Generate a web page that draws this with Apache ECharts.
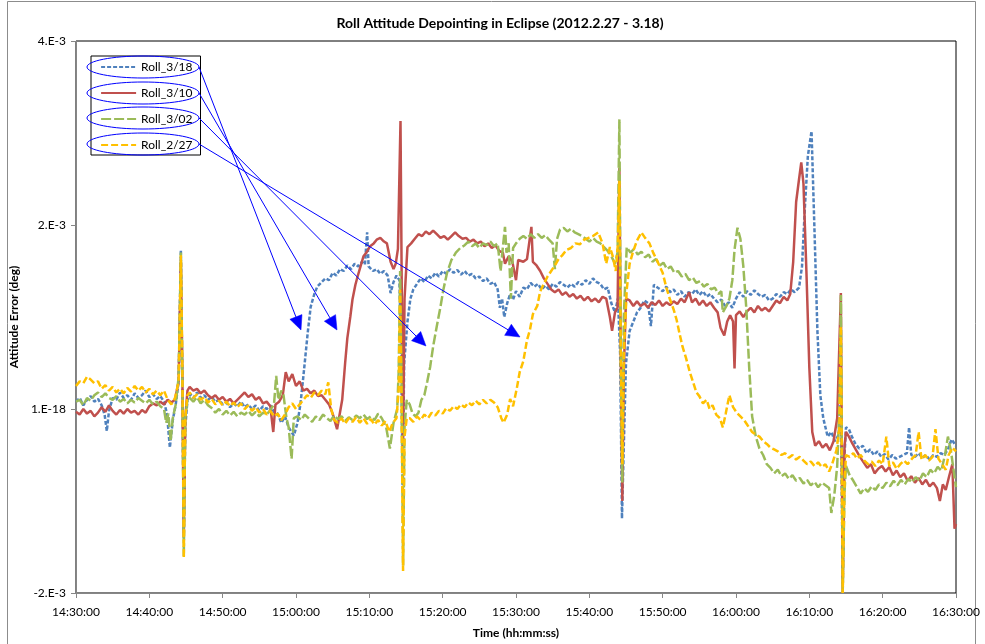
<!DOCTYPE html>
<html>
<head>
<meta charset="utf-8">
<script src="https://cdn.jsdelivr.net/npm/echarts@6/dist/echarts.min.js"></script>
<style>
  html, body { margin: 0; padding: 0; background: #ffffff; }
  #chart { width: 985px; height: 644px; }
</style>
</head>
<body>
<div id="chart"></div>
<script>
// Roll attitude error during eclipse passes, four dates.
// Each sample: [minutes after 14:30:00, roll error in units of 1e-3 deg]
const chartTitle = 'Roll Attitude Depointing in Eclipse (2012.2.27 - 3.18)';
const xAxisTitle = 'Time (hh:mm:ss)';
const yAxisTitle = 'Attitude Error (deg)';
const seriesNames = ['Roll_3/18', 'Roll_3/10', 'Roll_3/02', 'Roll_2/27'];
const timeLabels = ['14:30:00', '14:40:00', '14:50:00', '15:00:00', '15:10:00', '15:20:00', '15:30:00',
                    '15:40:00', '15:50:00', '16:00:00', '16:10:00', '16:20:00', '16:30:00'];
const yTickValues = [-0.002, 0, 0.002, 0.004];
const yTickLabels = ['-2.E-3', '1.E-18', '2.E-3', '4.E-3'];

const roll0318 = [
  [0,0.08],[0.5,0.12],[1,0.04],[1.5,0.1],[2,0.14],[2.5,0.08],[3,0.11],[3.5,0.04],[3.9,-0.06],[4.2,-0.24],[4.5,-0.02],
  [5,0.12],[5.5,0.1],[6,0.18],[6.5,0.12],[7,0.15],[7.5,0.1],[8,0.17],[8.5,0.12],[9,0.15],[9.5,0.2],[10,0.13],
  [10.5,0.16],[11,0.11],[11.5,0.14],[12,0.08],[12.4,-0.05],[12.8,-0.42],[13.2,-0.12],[13.6,0.05],[14.0,0.3],
  [14.3,1.73],[14.5,0.3],[14.7,-1.35],[14.9,-0.2],[15.2,0.1],[15.6,0.16],[16,0.12],[16.5,0.18],[17,0.12],[17.5,0.15],
  [18,0.1],[18.5,0.13],[19,0.08],[19.5,0.1],[20,0.05],[20.5,0.07],[21,0.02],[21.5,0.06],[22,0.03],[22.5,0.08],
  [23,0.02],[23.5,0.05],[24,0.0],[24.5,0.04],[25,-0.02],[25.5,0.03],[26,0.0],[26.5,0.04],[27,-0.03],[27.5,-0.05],
  [28,-0.15],[28.5,-0.08],[29,-0.2],[29.7,-0.29],[30.2,-0.15],[30.6,0.05],[31,0.35],[31.6,0.83],[32,1.11],[32.5,1.25],
  [32.9,1.33],[33.5,1.38],[34,1.42],[34.5,1.4],[35,1.48],[35.5,1.45],[36,1.52],[36.5,1.5],[37,1.56],[37.5,1.52],
  [38,1.58],[38.5,1.55],[39,1.6],[39.4,1.57],[39.7,1.92],[39.9,1.55],[40.5,1.5],[41,1.52],[41.5,1.47],[42,1.5],
  [42.5,1.45],[42.9,1.26],[43.3,1.38],[43.7,1.45],[44.1,1.4],[44.35,0.6],[44.55,-0.9],[44.75,0.5],[45.2,0.95],
  [45.6,1.2],[46,1.3],[46.5,1.36],[47,1.42],[47.5,1.38],[48,1.45],[48.5,1.42],[49,1.48],[49.5,1.44],[50,1.5],
  [50.5,1.47],[51,1.52],[51.5,1.48],[52,1.51],[52.5,1.46],[53,1.5],[53.5,1.45],[54,1.47],[54.5,1.42],[55,1.44],
  [55.5,1.39],[56,1.42],[56.5,1.36],[57,1.38],[57.5,1.3],[57.8,1.1],[58.1,1.2],[58.4,1.0],[58.8,1.15],[59.2,1.25],
  [59.6,1.19],[60,1.28],[60.5,1.22],[61,1.32],[61.5,1.3],[62,1.37],[62.5,1.33],[63,1.36],[63.5,1.3],[64,1.34],
  [64.5,1.3],[65,1.36],[65.5,1.33],[66,1.38],[66.5,1.35],[67,1.32],[67.5,1.36],[68,1.33],[68.5,1.38],[69,1.35],
  [69.5,1.4],[70,1.36],[70.5,1.42],[71,1.38],[71.5,1.36],[72,1.3],[72.5,1.32],[73,1.15],[73.5,1.05],[73.9,1.2],
  [74.2,0.6],[74.45,-1.19],[74.7,-0.4],[75,0.5],[75.5,0.85],[76,0.95],[76.5,1.05],[77,1.1],[77.5,1.18],[78,1.15],
  [78.4,0.9],[78.8,1.35],[79.3,1.32],[80,1.28],[80.5,1.33],[81,1.27],[81.5,1.3],[82,1.24],[82.5,1.28],[83,1.22],
  [83.5,1.27],[84,1.25],[84.5,1.3],[85,1.24],[85.5,1.28],[86,1.22],[86.5,1.25],[87,1.2],[87.5,1.16],[88,1.19],
  [88.5,1.12],[89,1.16],[89.5,1.1],[90,1.2],[90.5,1.27],[91,1.22],[91.5,1.28],[92,1.24],[92.5,1.29],[93,1.25],
  [93.5,1.22],[94,1.24],[94.5,1.18],[95,1.2],[95.5,1.25],[96,1.22],[96.5,1.27],[97,1.25],[97.5,1.3],[98,1.27],
  [98.6,1.32],[99,1.55],[99.4,2.2],[99.8,2.75],[100.3,3.02],[100.7,1.95],[101.1,0.85],[101.5,0.15],[101.9,-0.1],
  [102.5,-0.3],[103,-0.25],[103.5,-0.35],[104,-0.28],[104.3,0.2],[104.55,-1.9],[104.8,-0.5],[105,-0.2],[105.4,-0.22],
  [105.8,-0.3],[106.3,-0.38],[106.8,-0.43],[107.3,-0.4],[107.8,-0.48],[108.3,-0.44],[108.8,-0.5],[109.3,-0.46],
  [109.8,-0.52],[110.3,-0.49],[110.8,-0.55],[111.3,-0.5],[111.8,-0.54],[112.3,-0.52],[112.8,-0.5],[113.3,-0.48],
  [113.6,-0.2],[113.9,-0.5],[114.4,-0.52],[114.9,-0.48],[115.4,-0.53],[115.9,-0.5],[116.4,-0.55],[116.9,-0.5],
  [117.4,-0.52],[117.9,-0.48],[118.4,-0.5],[118.9,-0.44],[119.4,-0.33],[120,-0.4]
];

const roll0310 = [
  [0,-0.03],[0.5,-0.06],[1,0.0],[1.5,-0.05],[2,-0.02],[2.5,-0.08],[3,-0.04],[3.5,0.02],[4,-0.03],[4.5,0.04],
  [5,-0.02],[5.5,-0.06],[6,-0.01],[6.5,-0.05],[7,0.0],[7.5,-0.04],[8,-0.02],[8.5,-0.06],[9,-0.01],[9.5,-0.04],
  [10,0.03],[10.5,0.06],[11,0.04],[11.5,0.08],[12,0.05],[12.5,0.1],[13,0.07],[13.5,0.1],[14.0,0.3],[14.3,1.6],
  [14.5,0.4],[14.7,-1.4],[14.9,-0.1],[15.2,0.2],[15.5,0.24],[16,0.2],[16.5,0.22],[17,0.17],[17.5,0.2],[18,0.15],
  [18.5,0.12],[19,0.15],[19.5,0.1],[20,0.13],[20.5,0.08],[21,0.11],[21.5,0.06],[22,0.1],[22.5,0.14],[23,0.18],
  [23.5,0.13],[24,0.16],[24.5,0.1],[25,0.13],[25.5,0.06],[26,0.08],[26.5,0.03],[26.9,-0.25],[27.2,0.05],[27.7,0.08],
  [28.2,0.15],[28.6,0.4],[29,0.3],[29.5,0.38],[30,0.25],[30.5,0.3],[31,0.2],[31.5,0.22],[32,0.17],[32.5,0.2],
  [33,0.14],[33.5,0.15],[34,0.1],[34.5,0.05],[35,-0.05],[35.6,-0.22],[36.3,0.1],[36.7,0.5],[37,0.77],[37.4,1.0],
  [37.7,1.19],[38.1,1.35],[38.4,1.44],[38.8,1.55],[39.2,1.66],[39.6,1.7],[40.1,1.77],[40.6,1.8],[41,1.84],[41.5,1.86],
  [42,1.82],[42.4,1.8],[42.9,1.6],[43.3,1.52],[43.6,1.58],[43.9,1.74],[44.25,3.13],[44.45,1.0],[44.6,-0.4],[44.8,1.2],
  [45.2,1.76],[45.7,1.8],[46.2,1.85],[46.7,1.9],[47.2,1.88],[47.7,1.93],[48.2,1.9],[48.7,1.94],[49.2,1.9],[49.7,1.86],
  [50.2,1.88],[50.7,1.84],[51.2,1.88],[51.7,1.92],[52.2,1.88],[52.7,1.85],[53.2,1.86],[53.7,1.82],[54.2,1.84],
  [54.7,1.8],[55.2,1.82],[55.7,1.77],[56.2,1.8],[56.7,1.75],[57.2,1.78],[57.7,1.72],[58.2,1.7],[58.5,1.58],[59,1.66],
  [59.5,1.6],[60,1.4],[60.3,1.62],[61,1.6],[61.5,1.63],[62.1,1.98],[62.3,1.6],[62.8,1.56],[63.3,1.5],[63.8,1.42],
  [64.3,1.36],[64.8,1.3],[65.3,1.27],[65.8,1.3],[66.3,1.24],[66.8,1.27],[67.3,1.22],[67.8,1.25],[68.3,1.2],[68.8,1.23],
  [69.3,1.18],[69.8,1.22],[70.3,1.17],[70.8,1.2],[71.3,1.16],[71.8,1.22],[72.3,1.2],[72.8,1.0],[73.1,0.85],[73.5,1.05],
  [73.85,1.1],[74.1,2.62],[74.3,0.5],[74.5,-1.0],[74.7,0.4],[75,1.2],[75.5,1.18],[76,1.12],[76.5,1.17],[77,1.12],
  [77.5,1.15],[78,1.1],[78.5,1.16],[79,1.13],[79.5,1.18],[80,1.12],[80.5,1.16],[81,1.13],[81.5,1.17],[82,1.14],
  [82.5,1.2],[83,1.16],[83.6,1.27],[84,1.16],[84.5,1.2],[85,1.13],[85.5,1.18],[86,1.12],[86.5,1.16],[87,1.1],
  [87.5,1.05],[87.9,0.88],[88.4,0.8],[88.8,0.95],[89.2,1.02],[89.6,0.95],[89.8,0.44],[90,1.02],[90.5,1.06],[91,1.0],
  [91.5,1.06],[92,1.1],[92.5,1.05],[93,1.12],[93.5,1.07],[94,1.1],[94.5,1.06],[95,1.12],[95.5,1.18],[96,1.15],
  [96.5,1.22],[97,1.18],[97.4,1.25],[97.8,1.6],[98.2,2.25],[98.6,2.5],[98.9,2.68],[99.2,2.45],[99.6,1.5],[100,0.45],
  [100.4,-0.25],[100.8,-0.4],[101.3,-0.35],[101.8,-0.42],[102.3,-0.38],[102.8,-0.45],[103.3,-0.35],[103.8,-0.1],
  [104.3,1.26],[104.55,-2.0],[104.8,-0.4],[105,-0.25],[105.4,-0.3],[105.9,-0.38],[106.4,-0.45],[106.9,-0.52],
  [107.4,-0.58],[107.9,-0.64],[108.4,-0.6],[108.9,-0.7],[109.4,-0.65],[109.9,-0.62],[110.4,-0.68],[110.9,-0.63],
  [111.4,-0.72],[111.9,-0.67],[112.4,-0.74],[112.9,-0.7],[113.4,-0.78],[113.9,-0.73],[114.4,-0.8],[114.9,-0.75],
  [115.4,-0.82],[115.9,-0.77],[116.4,-0.84],[116.9,-0.8],[117.4,-0.86],[117.8,-1.0],[118.2,-0.82],[118.6,-0.88],
  [119.1,-0.72],[119.5,-0.6],[119.8,-1.3],[120,-1.25]
];

const roll0302 = [
  [0,0.08],[0.5,0.1],[1,0.04],[1.5,0.12],[2,0.09],[2.5,0.15],[3,0.18],[3.5,0.13],[4,0.17],[4.5,0.12],[5,0.1],
  [5.5,0.14],[6,0.08],[6.5,0.11],[7,0.06],[7.5,0.1],[8,0.07],[8.5,0.12],[9,0.09],[9.5,0.06],[10,0.1],[10.5,0.05],
  [11,0.08],[11.5,0.03],[12,0.0],[12.3,-0.15],[12.6,-0.05],[12.9,-0.35],[13.2,-0.1],[13.6,0.05],[14.0,0.35],
  [14.3,1.7],[14.5,0.3],[14.7,-1.6],[14.9,-0.1],[15.2,0.1],[15.5,0.12],[16,0.08],[16.5,0.13],[17,0.06],[17.5,0.1],
  [18,0.04],[18.5,0.01],[19,-0.04],[19.5,0.0],[20,-0.06],[20.5,-0.02],[21,-0.07],[21.5,-0.03],[22,-0.08],[22.5,-0.04],
  [23,-0.06],[23.5,-0.02],[24,-0.07],[24.5,-0.03],[25,-0.08],[25.5,-0.04],[26,-0.06],[26.5,-0.01],[27,0.05],
  [27.3,0.36],[27.6,0.1],[28,0.2],[28.3,0.15],[28.7,-0.1],[29,-0.2],[29.4,-0.54],[29.7,-0.1],[30.2,-0.08],
  [30.7,-0.12],[31.2,-0.06],[31.7,-0.1],[32.2,-0.14],[32.7,-0.08],[33.2,-0.12],[33.7,-0.06],[34.2,-0.1],[34.7,-0.13],
  [35.2,-0.07],[35.7,-0.11],[36.2,-0.08],[36.7,-0.13],[37.2,-0.09],[37.7,-0.12],[38.2,-0.07],[38.7,-0.1],[39.2,-0.06],
  [39.7,-0.11],[40.2,-0.08],[40.7,-0.12],[41.2,-0.05],[41.7,-0.1],[42.3,-0.2],[42.8,-0.43],[43.3,-0.15],[43.8,0.0],
  [44.0,0.4],[44.2,1.5],[44.4,0.2],[44.6,-1.7],[44.8,-0.2],[45.1,0.1],[45.5,0.05],[45.9,-0.05],[46.3,-0.08],
  [46.7,-0.04],[47.1,0.1],[47.5,0.15],[47.9,0.3],[48.3,0.46],[48.7,0.68],[49.2,0.9],[49.7,1.11],[50.1,1.3],
  [50.6,1.48],[51.2,1.62],[51.8,1.7],[52.4,1.75],[53,1.78],[53.5,1.82],[54,1.77],[54.5,1.8],[55,1.75],[55.5,1.8],
  [56,1.78],[56.5,1.82],[57,1.77],[57.5,1.8],[57.9,1.5],[58.2,1.75],[58.5,1.98],[58.7,1.7],[59,1.8],[59.3,1.2],
  [59.6,1.75],[60,1.8],[60.5,1.85],[61,1.88],[61.5,1.85],[62,1.9],[62.5,1.86],[63,1.9],[63.5,1.86],[64,1.89],
  [64.5,1.84],[65,1.8],[65.3,1.52],[65.6,1.85],[66,1.95],[66.5,1.97],[67,1.93],[67.5,1.96],[68,1.92],[68.5,1.9],
  [69,1.88],[69.5,1.85],[70,1.82],[70.5,1.86],[71,1.82],[71.5,1.8],[72,1.76],[72.5,1.72],[73,1.66],[73.5,1.58],
  [73.85,1.7],[74.1,3.15],[74.3,0.5],[74.5,-0.8],[74.7,1.0],[75.1,1.76],[75.6,1.7],[76.1,1.74],[76.6,1.68],
  [77.1,1.71],[77.6,1.65],[78.1,1.68],[78.6,1.6],[79.1,1.63],[79.6,1.56],[80.1,1.59],[80.6,1.52],[81.1,1.55],
  [81.6,1.48],[82.1,1.5],[82.6,1.44],[83.1,1.47],[83.6,1.4],[84.1,1.43],[84.6,1.37],[85.1,1.39],[85.6,1.33],
  [86.1,1.36],[86.6,1.3],[87.1,1.32],[87.6,1.25],[88,1.28],[88.2,1.05],[88.7,1.12],[89.1,1.2],[89.5,1.4],[89.8,1.73],
  [90.2,1.97],[90.6,1.85],[91,1.55],[91.4,1.1],[91.8,0.45],[92.2,-0.08],[92.7,-0.3],[93.2,-0.43],[93.7,-0.5],
  [94.2,-0.6],[94.7,-0.64],[95.2,-0.7],[95.7,-0.66],[96.2,-0.73],[96.7,-0.7],[97.2,-0.76],[97.7,-0.72],[98.2,-0.78],
  [98.7,-0.75],[99.2,-0.81],[99.7,-0.77],[100.2,-0.83],[100.7,-0.79],[101.2,-0.85],[101.7,-0.8],[102.2,-0.83],
  [102.7,-0.86],[103,-1.13],[103.4,-0.94],[103.8,-0.62],[104.1,0.0],[104.3,1.24],[104.55,-2.0],[104.8,-0.9],
  [105,-0.62],[105.5,-0.72],[106,-0.78],[106.5,-0.85],[107,-0.92],[107.5,-0.86],[108,-0.9],[108.5,-0.84],[109,-0.88],
  [109.5,-0.82],[110,-0.86],[110.5,-0.8],[111,-0.84],[111.5,-0.78],[112,-0.83],[112.5,-0.77],[113,-0.82],[113.5,-0.76],
  [114,-0.8],[114.5,-0.74],[115,-0.78],[115.5,-0.7],[116,-0.74],[116.5,-0.66],[117,-0.7],[117.5,-0.63],[118,-0.67],
  [118.5,-0.5],[118.9,-0.3],[119.3,-0.45],[119.7,-0.68],[120,-0.85]
];

const roll0227 = [
  [0,0.25],[0.5,0.3],[1,0.28],[1.5,0.35],[2,0.32],[2.5,0.28],[3,0.3],[3.5,0.22],[4,0.26],[4.5,0.2],[5,0.24],
  [5.5,0.18],[6,0.22],[6.5,0.17],[7,0.23],[7.5,0.19],[8,0.25],[8.5,0.2],[9,0.24],[9.5,0.18],[10,0.22],[10.5,0.16],
  [11,0.2],[11.5,0.15],[12,0.2],[12.5,0.1],[13,0.05],[13.5,0.12],[14.0,0.3],[14.3,1.67],[14.5,0.5],[14.7,-1.62],
  [14.9,-0.1],[15.2,0.15],[15.5,0.18],[16,0.12],[16.5,0.16],[17,0.1],[17.5,0.13],[18,0.07],[18.5,0.11],[19,0.05],
  [19.5,0.09],[20,0.04],[20.5,0.08],[21,0.03],[21.5,0.07],[22,0.02],[22.5,0.06],[23,0.0],[23.5,0.04],[24,-0.02],
  [24.5,0.02],[25,-0.04],[25.5,0.0],[26,-0.06],[26.5,-0.02],[27,-0.08],[27.5,-0.05],[28,-0.12],[28.5,-0.06],
  [29,0.02],[29.5,0.06],[30,0.0],[30.5,0.05],[31,0.1],[31.5,0.15],[32,0.12],[32.5,0.18],[33,0.15],[33.5,0.2],
  [34,0.16],[34.4,0.29],[34.8,0.0],[35.2,-0.12],[35.7,-0.15],[36.2,-0.1],[36.7,-0.16],[37.2,-0.1],[37.7,-0.14],
  [38.2,-0.09],[38.7,-0.15],[39.2,-0.1],[39.7,-0.16],[40.2,-0.11],[40.7,-0.17],[41.2,-0.12],[41.7,-0.18],[42.2,-0.13],
  [42.7,-0.25],[43.2,-0.15],[43.7,-0.1],[44.0,0.2],[44.2,1.3],[44.4,0.0],[44.6,-1.76],[44.8,-0.3],[45.1,-0.1],
  [45.5,-0.1],[46,-0.14],[46.5,-0.08],[47,-0.12],[47.5,-0.06],[48,-0.1],[48.5,-0.04],[49,-0.07],[49.5,-0.02],
  [50,-0.05],[50.5,0.01],[51,-0.02],[51.5,0.03],[52,0.0],[52.5,0.05],[53,0.02],[53.5,0.07],[54,0.04],[54.5,0.09],
  [55,0.05],[55.5,0.1],[56,0.06],[56.5,0.1],[57,0.07],[57.5,0.02],[58,-0.1],[58.3,-0.15],[58.8,-0.06],[59.2,0.11],
  [59.6,0.03],[60.1,0.22],[60.5,0.4],[61,0.52],[61.5,0.75],[61.9,0.86],[62.3,1.03],[62.9,1.12],[63.3,1.28],
  [63.8,1.36],[64.3,1.44],[64.8,1.5],[65.3,1.56],[65.8,1.63],[66.3,1.67],[66.9,1.73],[67.5,1.75],[68.1,1.8],
  [68.7,1.79],[69.3,1.84],[69.9,1.86],[70.5,1.88],[71.2,1.92],[71.8,1.8],[72.3,1.58],[72.8,1.76],[73.2,1.66],
  [73.6,1.5],[73.9,1.8],[74.1,2.48],[74.3,0.5],[74.5,-0.6],[74.7,0.6],[75.1,1.3],[75.5,1.58],[76,1.72],[76.5,1.83],
  [77.1,1.92],[77.6,1.86],[78.2,1.8],[78.7,1.7],[79.2,1.62],[79.6,1.55],[80,1.48],[80.5,1.32],[81,1.19],[81.5,1.08],
  [81.9,0.97],[82.3,0.82],[82.7,0.68],[83.2,0.55],[83.7,0.4],[84.2,0.28],[84.6,0.18],[85,0.14],[85.5,0.06],[86,0.1],
  [86.4,0.0],[86.8,0.04],[87.3,-0.06],[87.8,-0.1],[88.2,-0.2],[88.6,-0.05],[89.1,0.15],[89.6,0.02],[90.1,-0.04],
  [90.6,-0.08],[91.1,-0.12],[91.6,-0.18],[92.2,-0.25],[92.7,-0.28],[93.2,-0.3],[93.7,-0.35],[94.2,-0.38],[94.7,-0.42],
  [95.2,-0.44],[95.7,-0.46],[96.2,-0.5],[96.7,-0.48],[97.2,-0.53],[97.7,-0.5],[98.2,-0.55],[98.7,-0.52],[99.2,-0.56],
  [99.7,-0.6],[100.2,-0.57],[100.7,-0.62],[101.2,-0.58],[101.7,-0.63],[102.2,-0.6],[102.7,-0.68],[103.1,-0.6],
  [103.7,-0.45],[104.1,-0.2],[104.3,0.9],[104.55,-2.0],[104.8,-0.8],[105,-0.5],[105.5,-0.52],[106,-0.48],[106.5,-0.54],
  [107,-0.5],[107.5,-0.56],[108,-0.6],[108.5,-0.57],[109,-0.62],[109.5,-0.56],[110,-0.6],[110.5,-0.3],[110.9,-0.62],
  [111.4,-0.58],[111.9,-0.65],[112.4,-0.6],[112.9,-0.56],[113.4,-0.6],[114,-0.54],[114.5,-0.5],[114.9,-0.25],
  [115.3,-0.55],[115.8,-0.5],[116.3,-0.56],[116.8,-0.52],[117.2,-0.22],[117.6,-0.54],[118.1,-0.6],[118.6,-0.66],
  [119,-0.5],[119.5,-0.42],[120,-0.46]
];

const seriesData = [roll0318, roll0310, roll0302, roll0227];
const seriesColors = ['#4F81BD', '#C0504D', '#9BBB59', '#FFC000'];
const seriesDash = [[4, 2], 'solid', [10, 3], [7, 3]];

const FONT = 'Lato, "Open Sans", sans-serif';
const MDEG = 1e-3;

const chart = echarts.init(document.getElementById('chart'), null, { renderer: 'canvas' });

const series = seriesNames.map((name, i) => ({
  name,
  type: 'line',
  data: seriesData[i].map(([t, v]) => [t, v * MDEG]),
  showSymbol: false,
  symbol: 'none',
  smooth: false,
  clip: true,
  lineStyle: { color: seriesColors[i], width: 2.5, type: seriesDash[i] },
  itemStyle: { color: seriesColors[i] },
  emphasis: { disabled: true },
  z: 2 + i
}));

// Callout ellipses around legend rows and arrows pointing into the plot
const calloutRows = [67, 93, 118, 144];
const arrowTips = [[301, 330], [337, 330], [426, 346], [520, 337]];
const graphics = [];
graphics.push({
  type: 'rect', silent: true, z: 0,
  shape: { x: 7.5, y: 1.5, width: 968, height: 700 },
  style: { fill: 'none', stroke: '#8c8c8c', lineWidth: 1 }
});
graphics.push({
  type: 'text', silent: true, z: 10,
  x: 500, y: 23,
  style: { text: chartTitle, font: 'bold 14px ' + FONT, fill: '#000', align: 'center', verticalAlign: 'middle' }
});
calloutRows.forEach((cy, i) => {
  graphics.push({
    type: 'ellipse', silent: true, z: 20,
    shape: { cx: 143, cy: cy, rx: 56, ry: 11 },
    style: { fill: 'none', stroke: '#0000FF', lineWidth: 1 }
  });
  const sx = 199, sy = cy;
  const [tx, ty] = arrowTips[i];
  const dx = tx - sx, dy = ty - sy;
  const len = Math.hypot(dx, dy);
  const ux = dx / len, uy = dy / len;
  const headLen = 14, headHalf = 6.5;
  const bx = tx - ux * headLen, by = ty - uy * headLen;
  graphics.push({
    type: 'line', silent: true, z: 20,
    shape: { x1: sx, y1: sy, x2: bx, y2: by },
    style: { stroke: '#0000FF', lineWidth: 1 }
  });
  graphics.push({
    type: 'polygon', silent: true, z: 20,
    shape: { points: [[tx, ty], [bx - uy * headHalf, by + ux * headHalf], [bx + uy * headHalf, by - ux * headHalf]] },
    style: { fill: '#0000FF', stroke: '#0000FF', lineWidth: 0.5 }
  });
});

chart.setOption({
  animation: false,
  backgroundColor: '#ffffff',
  textStyle: { fontFamily: FONT },
  grid: {
    left: 74, right: 29, top: 41, bottom: 48,
    show: true, borderColor: '#000000', borderWidth: 1, backgroundColor: 'transparent',
    containLabel: false
  },
  legend: {
    data: seriesNames,
    orient: 'vertical',
    left: 91, top: 56,
    padding: [4, 8, 3, 9],
    itemWidth: 35, itemHeight: 14, itemGap: 12,
    borderColor: '#000000', borderWidth: 1,
    backgroundColor: '#ffffff',
    itemStyle: { opacity: 0, borderWidth: 0 },
    lineStyle: { width: 2.2 },
    textStyle: { fontFamily: FONT, fontSize: 12, color: '#000', lineHeight: 14 },
    selectedMode: false,
    z: 15
  },
  xAxis: {
    type: 'value',
    min: 0, max: 120, interval: 10,
    name: xAxisTitle,
    nameLocation: 'middle', nameGap: 34,
    nameTextStyle: { fontFamily: FONT, fontSize: 12, fontWeight: 'bold', color: '#000' },
    axisLine: { show: true, onZero: false, lineStyle: { color: '#868686', width: 1 } },
    axisTick: { show: true, inside: false, length: 5, lineStyle: { color: '#868686' } },
    axisLabel: {
      margin: 13, fontSize: 12, color: '#000', fontFamily: FONT,
      formatter: v => timeLabels[Math.round(v / 10)] || ''
    },
    splitLine: { show: false }
  },
  yAxis: {
    type: 'value',
    min: yTickValues[0], max: yTickValues[yTickValues.length - 1], interval: 0.002,
    name: yAxisTitle,
    nameLocation: 'middle', nameGap: 53,
    nameTextStyle: { fontFamily: FONT, fontSize: 12, fontWeight: 'bold', color: '#000' },
    axisLine: { show: true, lineStyle: { color: '#868686', width: 1 } },
    axisTick: { show: true, inside: false, length: 5, lineStyle: { color: '#868686' } },
    axisLabel: {
      margin: 10, fontSize: 12, color: '#000', fontFamily: FONT,
      formatter: v => {
        const idx = yTickValues.findIndex(t => Math.abs(t - v) < 1e-9);
        return idx >= 0 ? yTickLabels[idx] : '';
      }
    },
    splitLine: { show: false }
  },
  graphic: graphics,
  series
});
</script>
</body>
</html>
